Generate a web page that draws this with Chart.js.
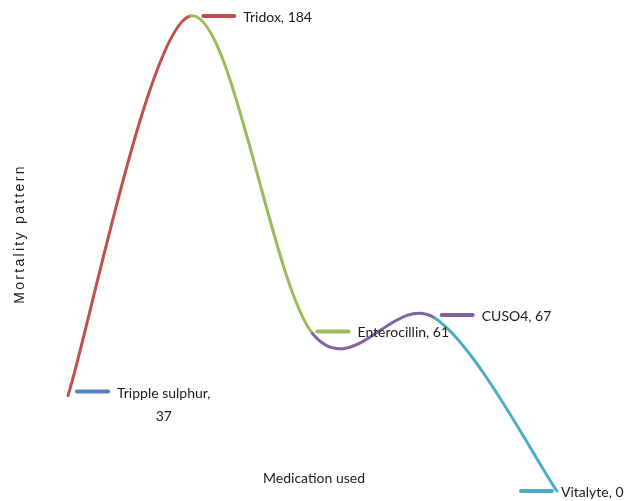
<!DOCTYPE html>
<html>
<head>
<meta charset="utf-8">
<script src="https://cdn.jsdelivr.net/npm/chart.js@4.4.0/dist/chart.umd.min.js"></script>
<style>
  html, body { margin: 0; padding: 0; background: #fff; }
  #wrap { width: 631px; height: 501px; position: relative; }
</style>
</head>
<body>
<div id="wrap"><canvas id="chart"></canvas></div>
<script>
// Datos
const medicamentos = ['Tripple sulphur', 'Tridox', 'Enterocillin', 'CUSO4', 'Vitalyte'];
const mortalidad = [37, 184, 61, 67, 0];
const colores = ['#4F81BD', '#C0504D', '#9BBB59', '#8064A2', '#4BACC6'];

// Posición de cada etiqueta (relativa al punto): inicio de la clave, desplazamiento vertical
const etiquetaPos = [
    { dx: 9, dy: -4, lineas: true },
    { dx: 13, dy: 0 },
    { dx: 5, dy: -2 },
    { dx: 7, dy: -3 },
    { dx: -36, dy: 0 }
];

const fuente = "Lato, 'Open Sans', sans-serif";

// Suavizado tipo Excel (Catmull-Rom, k = 1/6) sobre los puntos ya escalados
const suavizadoPlugin = {
    id: 'suavizado',
    beforeDatasetsDraw(chart) {
        const meta = chart.getDatasetMeta(0);
        meta.dataset.updateControlPoints(chart.chartArea, 'x');
        const pts = meta.data;
        const n = pts.length;
        const k = 1 / 6;
        for (let i = 0; i < n; i++) {
            const prev = pts[Math.max(i - 1, 0)];
            const next = pts[Math.min(i + 1, n - 1)];
            const dx = (next.x - prev.x) * k;
            const dy = (next.y - prev.y) * k;
            pts[i].cp1x = pts[i].x - dx;
            pts[i].cp1y = pts[i].y - dy;
            pts[i].cp2x = pts[i].x + dx;
            pts[i].cp2y = pts[i].y + dy;
        }
    }
};

// Plugin de etiquetas estilo Excel: clave de color + "Nombre, valor"
const etiquetasPlugin = {
    id: 'etiquetas',
    afterDatasetsDraw(chart) {
        const ctx = chart.ctx;
        const meta = chart.getDatasetMeta(0);
        ctx.save();
        ctx.font = '14px ' + fuente;
        ctx.fillStyle = '#1a1a1a';
        ctx.textBaseline = 'middle';
        meta.data.forEach((pt, i) => {
            const pos = etiquetaPos[i];
            const x0 = pt.x + pos.dx;
            const y0 = pt.y + pos.dy;
            ctx.strokeStyle = colores[i];
            ctx.lineWidth = 4;
            ctx.lineCap = 'round';
            ctx.beginPath();
            ctx.moveTo(x0, y0);
            ctx.lineTo(x0 + 31, y0);
            ctx.stroke();
            const tx = x0 + 40;
            if (pos.lineas) {
                const t1 = medicamentos[i] + ',';
                ctx.textAlign = 'left';
                ctx.fillText(t1, tx, y0 + 2);
                const w = ctx.measureText(t1).width;
                ctx.textAlign = 'center';
                ctx.fillText(String(mortalidad[i]), tx + w / 2, y0 + 25);
            } else {
                ctx.textAlign = 'left';
                ctx.fillText(medicamentos[i] + ', ' + mortalidad[i], tx, y0 + 1);
            }
        });

        // Títulos de ejes
        ctx.fillStyle = '#1a1a1a';
        ctx.textAlign = 'center';
        ctx.font = '14px ' + fuente;
        ctx.fillText('Medication used', 314, 478);

        ctx.save();
        ctx.translate(20, 234);
        ctx.rotate(-Math.PI / 2);
        ctx.font = "14px 'Liberation Sans', Arial, sans-serif";
        ctx.letterSpacing = '2.3px';
        ctx.fillText('Mortality pattern', 0, 0);
        ctx.restore();

        ctx.restore();
    }
};

new Chart(document.getElementById('chart'), {
    type: 'line',
    data: {
        labels: medicamentos,
        datasets: [{
            data: mortalidad,
            borderWidth: 3,
            pointRadius: 0,
            tension: 0.4,
            fill: false,
            clip: false,
            segment: {
                borderColor: c => colores[c.p1DataIndex]
            }
        }]
    },
    options: {
        responsive: true,
        maintainAspectRatio: false,
        animation: false,
        layout: { padding: { left: 68, right: 74, top: 16, bottom: 10 } },
        elements: { line: { capBezierPoints: false, borderCapStyle: 'round' } },
        plugins: {
            legend: { display: false },
            tooltip: { enabled: false }
        },
        scales: {
            x: { display: false, offset: false },
            y: { display: false, min: 0, max: 184 }
        }
    },
    plugins: [suavizadoPlugin, etiquetasPlugin]
});
</script>
</body>
</html>
